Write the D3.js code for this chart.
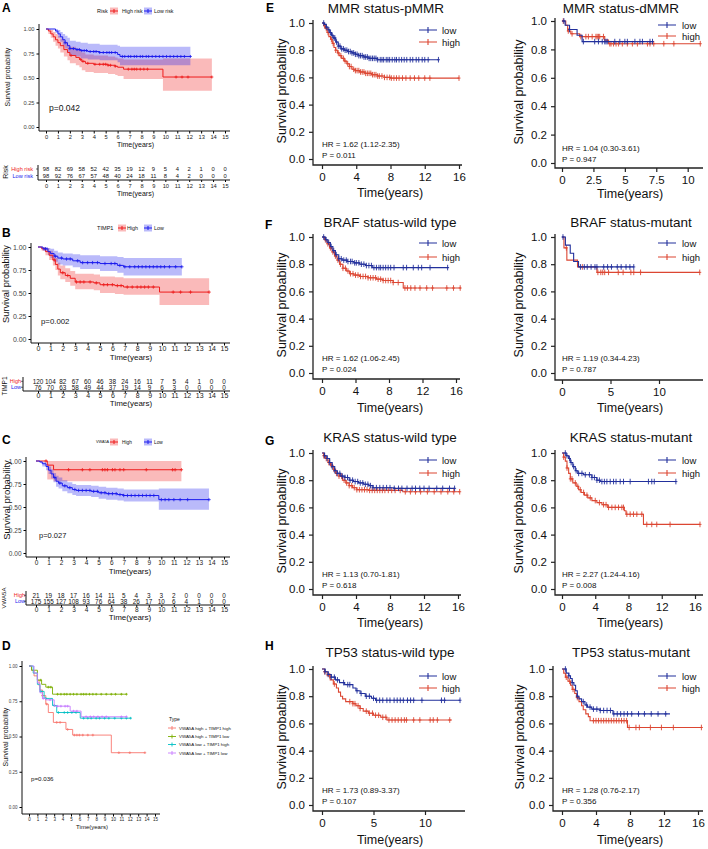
<!DOCTYPE html>
<html><head><meta charset="utf-8">
<script src="https://cdn.jsdelivr.net/npm/d3@7"></script>
<style>body{margin:0;background:#fff}svg{display:block}</style>
</head><body><script>
// ================= DATA =================
const timeTicks15 = [0,1,2,3,4,5,6,7,8,9,10,11,12,13,14,15];
const ggYTicks = [0,0.25,0.5,0.75,1];
const kmYTicks = [0,0.2,0.4,0.6,0.8,1];

// ---- Panel A (Risk) : [time, surv, lower, upper]
const A_title = "Risk";
const A_groups = ["High risk","Low risk"];
const A_high_steps = [[0,1,1,1],[0.2,0.98,0.95,1],[0.4,0.95,0.91,0.99],[0.6,0.92,0.87,0.97],[0.8,0.89,0.83,0.95],[1.0,0.86,0.80,0.93],[1.2,0.83,0.76,0.90],[1.5,0.79,0.72,0.87],[1.8,0.76,0.68,0.84],[2.0,0.73,0.65,0.82],[2.5,0.71,0.63,0.80],[2.8,0.69,0.61,0.78],[3.0,0.67,0.58,0.76],[3.3,0.65,0.56,0.74],[4.0,0.64,0.55,0.73],[5.2,0.63,0.54,0.72],[5.8,0.62,0.53,0.71],[6.0,0.61,0.52,0.70],[6.5,0.59,0.49,0.69],[9.8,0.51,0.37,0.70]];
const A_high_end = 13.9;
const A_high_cens = [2.1,2.9,3.1,3.5,4.1,4.5,4.8,5.0,5.2,5.4,5.8,6.9,7.2,7.4,7.6,7.9,8.2,8.5,10.9,11.4,11.9,13.9];
const A_low_steps = [[0,1,1,1],[0.8,0.98,0.96,1],[1.0,0.95,0.91,0.99],[1.2,0.92,0.87,0.97],[1.4,0.89,0.83,0.95],[1.6,0.86,0.80,0.93],[1.8,0.83,0.76,0.91],[2.0,0.80,0.73,0.88],[2.5,0.79,0.72,0.87],[2.9,0.78,0.70,0.86],[3.5,0.77,0.69,0.85],[4.5,0.76,0.68,0.84],[6.0,0.74,0.66,0.83],[6.2,0.72,0.63,0.82]];
const A_low_end = 12.1;
const A_low_cens = [1.6,2.0,2.3,2.6,2.8,3.0,3.2,3.4,3.7,4.0,4.2,4.5,4.8,5.1,5.3,5.5,5.8,6.4,6.6,6.9,7.1,7.4,7.6,7.9,8.1,8.4,8.6,8.9,9.2,9.5,9.8,10.1,10.4,10.7,11.0,11.3,11.6,12.1];
const A_risk_high = [98,82,69,58,52,42,35,19,12,9,5,4,2,1,0,0];
const A_risk_low  = [98,92,76,67,57,48,40,24,18,11,8,4,2,0,0,0];
const A_p = "p=0.042";

// ---- Panel B (TIMP1)
const B_title = "TIMP1";
const B_groups = ["High","Low"];
const B_high_steps = [[0,1,1,1],[0.3,0.98,0.96,1],[0.6,0.95,0.91,0.99],[0.9,0.91,0.86,0.96],[1.2,0.86,0.80,0.92],[1.4,0.81,0.75,0.88],[1.6,0.76,0.69,0.83],[1.8,0.72,0.65,0.80],[2.2,0.69,0.62,0.77],[2.6,0.66,0.58,0.74],[3.0,0.62,0.54,0.71],[4.5,0.61,0.53,0.70],[5.0,0.59,0.50,0.68],[6.2,0.58,0.49,0.67],[6.9,0.565,0.48,0.66],[9.8,0.51,0.37,0.66]];
const B_high_end = 13.8;
const B_high_cens = [1.3,2.0,2.4,3.1,3.4,3.7,4.2,4.7,5.3,5.6,6.0,6.4,6.7,7.2,7.6,8.0,8.3,8.6,8.9,9.3,10.9,11.5,12.3,13.8];
const B_low_steps = [[0,1,1,1],[0.4,0.98,0.96,1],[0.8,0.95,0.91,0.99],[1.0,0.93,0.88,0.98],[1.3,0.90,0.84,0.96],[1.6,0.88,0.81,0.94],[2.0,0.87,0.80,0.93],[2.8,0.85,0.78,0.92],[3.4,0.83,0.76,0.91],[5.0,0.82,0.74,0.90],[6.4,0.80,0.72,0.89],[6.9,0.785,0.69,0.88]];
const B_low_end = 11.6;
const B_low_cens = [0.6,1.4,1.9,2.3,2.6,3.2,3.6,4.0,4.4,4.8,5.4,5.9,6.2,6.6,7.0,7.4,7.8,8.1,8.4,8.7,9.0,9.3,9.6,9.9,10.2,10.6,11.1,11.6];
const B_risk_high = [120,104,82,67,60,46,38,24,16,11,7,5,4,1,0,0];
const B_risk_low  = [76,70,63,58,49,44,37,19,14,9,6,3,0,0,0,0];
const B_p = "p=0.002";

// ---- Panel C (VWA5A)
const C_title = "VWA5A";
const C_groups = ["High","Low"];
const C_high_steps = [[0,1,1,1],[0.9,0.955,0.80,1],[1.4,0.905,0.78,1]];
const C_high_end = 11.6;
const C_high_cens = [0.8,2.6,3.7,4.3,5.3,5.5,5.7,6.1,6.3,6.7,7.0,8.8,10.9,11.1,11.6];
const C_low_steps = [[0,1,1,1],[0.3,0.99,0.98,1],[0.5,0.97,0.94,0.99],[0.8,0.94,0.90,0.97],[1.0,0.90,0.86,0.94],[1.2,0.86,0.81,0.91],[1.4,0.82,0.77,0.87],[1.6,0.78,0.72,0.84],[1.8,0.76,0.70,0.82],[2.1,0.73,0.67,0.79],[2.5,0.71,0.65,0.77],[2.9,0.69,0.63,0.75],[3.2,0.68,0.62,0.74],[4.4,0.67,0.61,0.73],[5.0,0.655,0.59,0.72],[5.6,0.645,0.58,0.71],[6.5,0.635,0.57,0.70],[7.0,0.625,0.56,0.69],[9.8,0.58,0.47,0.70]];
const C_low_end = 13.8;
const C_low_cens = [1.5,1.9,2.3,2.7,3.1,3.4,3.7,4.0,4.3,4.6,4.9,5.2,5.5,5.8,6.1,6.4,6.7,7.0,7.3,7.6,7.9,8.2,8.5,8.8,9.1,9.4,10.0,10.3,10.6,11.0,11.5,12.1,13.8];
const C_risk_high = [21,19,18,17,16,14,11,5,4,3,3,2,0,0,0,0];
const C_risk_low  = [175,155,127,108,93,76,64,38,26,17,10,6,4,1,0,0];
const C_p = "p=0.027";

// ---- Panel D (Type)
const D_title = "Type";
const D_groups = ["VWA5A high + TIMP1 high","VWA5A high + TIMP1 low","VWA5A low + TIMP1 high","VWA5A low + TIMP1 low"];
const D_hh_steps = [[0,1],[0.3,0.97],[0.6,0.93],[1.0,0.90],[1.2,0.86],[1.3,0.83],[1.6,0.79],[2.0,0.73],[2.3,0.67],[2.9,0.60],[4.4,0.55],[5.2,0.51],[9.8,0.385]];
const D_hh_end = 13.8;
const D_hh_cens = [1.6,2.1,3.3,3.7,4.6,5.4,5.7,6.0,6.4,7.0,7.6,10.7,12.0,13.8];
const D_hl_steps = [[0,1],[0.3,0.97],[1.0,0.90],[1.5,0.87],[2.0,0.85],[2.8,0.80]];
const D_hl_end = 11.6;
const D_hl_cens = [1.4,2.3,2.6,3.4,3.8,4.2,4.5,4.9,5.3,5.7,6.2,6.5,6.8,7.2,7.6,8.0,8.6,9.2,9.8,10.3,11.0,11.6];
const D_lh_steps = [[0,1],[0.5,0.95],[1.0,0.87],[1.3,0.82],[1.8,0.77],[2.8,0.72],[3.3,0.67],[6.1,0.63]];
const D_lh_end = 12.1;
const D_lh_cens = [1.4,2.0,3.0,3.5,4.2,4.6,5.1,5.6,6.5,7.0,7.4,8.0,8.4,9.0,9.5,10.2,11.0,11.6,12.1];
const D_ll_steps = [[0,1],[0.6,0.95],[1.0,0.88],[1.3,0.81],[1.6,0.77],[2.0,0.76],[3.0,0.715],[4.9,0.68],[6.2,0.64]];
const D_ll_end = 11.6;
const D_ll_cens = [1.7,2.5,3.4,3.8,4.3,4.6,5.3,5.7,6.8,7.3,7.7,8.2,8.7,9.2,11.0,11.6];
const D_p = "p=0.036";

// ---- Panels E-H (low / high)
const kmGroups = ["low","high"];
const E1_title = "MMR  status-pMMR", E1_hr = "HR = 1.62 (1.12-2.35)", E1_p = "P = 0.011";
const E1_xticks = [0,4,8,12,16];
const E1_low_steps = [[0,1],[0.3,0.99],[0.5,0.97],[0.7,0.95],[0.9,0.93],[1.1,0.91],[1.3,0.89],[1.6,0.86],[1.9,0.83],[2.2,0.81],[2.6,0.80],[3.0,0.79],[3.5,0.78],[3.9,0.77],[4.3,0.76],[4.9,0.75],[5.5,0.74],[6.5,0.73]];
const E1_low_end = 13.6;
const E1_low_cens = [0.2,0.5,0.8,1.0,1.2,1.4,1.5,1.7,1.9,2.1,2.3,2.5,2.7,2.9,3.1,3.3,3.5,3.7,3.9,4.1,4.3,4.5,4.7,4.9,5.1,5.3,5.5,5.7,5.9,6.1,6.3,6.5,6.8,7.0,7.2,7.5,7.7,7.9,8.2,8.5,8.7,9.0,9.3,9.6,9.9,10.3,10.6,11.0,11.3,11.7,12.0,12.4,13.6];
const E1_high_steps = [[0,1],[0.2,0.98],[0.4,0.96],[0.6,0.93],[0.8,0.90],[1.0,0.88],[1.2,0.85],[1.4,0.82],[1.6,0.80],[1.8,0.78],[2.0,0.76],[2.3,0.74],[2.6,0.72],[2.9,0.70],[3.2,0.68],[3.5,0.66],[3.9,0.65],[4.4,0.64],[5.0,0.63],[5.8,0.62],[6.5,0.61],[7.3,0.60],[8.0,0.595]];
const E1_high_end = 16;
const E1_high_cens = [0.3,0.5,0.7,1.1,1.3,1.6,1.9,2.2,2.5,2.7,3.0,3.2,3.4,3.7,3.9,4.1,4.3,4.5,4.7,4.9,5.1,5.3,5.5,5.7,5.9,6.1,6.3,6.5,6.7,7.0,7.3,7.6,7.9,8.1,8.4,8.7,9.0,9.4,9.8,10.3,10.8,11.3,12.0,12.6,16.0];

const E2_title = "MMR  status-dMMR", E2_hr = "HR = 1.04 (0.30-3.61)", E2_p = "P = 0.947";
const E2_xticks = [0,2.5,5,7.5,10];
const E2_low_steps = [[0,1],[0.25,0.97],[0.6,0.94],[1.2,0.90],[1.6,0.855]];
const E2_low_end = 7.2;
const E2_low_cens = [0.15,0.6,1.7,2.6,2.9,3.2,3.4,3.5,3.6,4.2,4.6,5.0,5.2,5.8,6.2,6.4,7.0,7.2];
const E2_high_steps = [[0,1],[0.3,0.97],[0.45,0.93],[0.7,0.91],[1.4,0.89],[3.4,0.865],[3.7,0.84]];
const E2_high_end = 11.0;
const E2_high_cens = [0.1,0.5,0.8,1.5,1.9,2.1,2.4,2.7,2.8,2.9,3.0,3.3,3.8,3.9,4.1,4.3,4.5,4.8,5.2,5.6,6.0,6.8,7.0,7.3,8.1,8.9,11.0];

const F1_title = "BRAF status-wild type", F1_hr = "HR = 1.62 (1.06-2.45)", F1_p = "P = 0.024";
const F1_xticks = [0,4,8,12,16];
const F1_low_steps = [[0,1],[0.4,0.98],[0.7,0.96],[1.0,0.93],[1.3,0.90],[1.6,0.87],[2.0,0.84],[2.4,0.83],[3.0,0.82],[3.8,0.81],[4.5,0.80],[5.2,0.79],[6.0,0.775]];
const F1_low_end = 15.1;
const F1_low_cens = [0.2,0.5,0.8,1.1,1.4,1.7,2.0,2.3,2.6,2.9,3.1,3.4,3.6,3.9,4.1,4.4,4.7,5.0,5.3,5.6,5.9,6.2,6.5,6.8,7.0,7.3,7.6,7.9,8.2,8.6,9.7,10.1,10.9,11.5,11.9,12.9,15.0];
const F1_high_steps = [[0,1],[0.3,0.98],[0.6,0.95],[0.9,0.92],[1.2,0.89],[1.5,0.86],[1.8,0.83],[2.1,0.80],[2.5,0.77],[2.9,0.75],[3.3,0.73],[3.8,0.72],[4.5,0.71],[5.5,0.70],[6.5,0.69],[7.3,0.68],[8.5,0.665],[9.7,0.625]];
const F1_high_end = 16.6;
const F1_high_cens = [0.4,0.7,1.0,1.3,1.6,1.9,2.2,2.5,2.8,3.1,3.4,3.7,4.0,4.3,4.6,4.9,5.2,5.5,5.8,6.1,6.4,6.7,7.0,7.3,7.6,7.9,8.2,8.5,9.1,9.9,10.2,10.6,11.1,11.7,12.5,13.2,14.9,15.7,16.5];

const F2_title = "BRAF status-mutant", F2_hr = "HR = 1.19 (0.34-4.23)", F2_p = "P = 0.787";
const F2_xticks = [0,5,10];
const F2_low_steps = [[0,1],[0.35,0.94],[0.85,0.88],[1.2,0.82],[1.7,0.78]];
const F2_low_end = 7.4;
const F2_low_cens = [0.1,1.9,2.3,2.6,3.0,3.4,3.6,4.3,4.7,5.1,5.7,6.1,6.6,7.0,7.4];
const F2_high_steps = [[0,1],[0.2,0.92],[0.5,0.83],[1.6,0.78],[3.6,0.74]];
const F2_high_end = 14.2;
const F2_high_cens = [0.45,2.1,3.7,4.0,4.2,4.4,4.8,5.8,6.3,7.1,7.4,8.1,14.2];

const G1_title = "KRAS status-wild type", G1_hr = "HR = 1.13 (0.70-1.81)", G1_p = "P = 0.618";
const G1_xticks = [0,4,8,12,16];
const G1_low_steps = [[0,1],[0.3,0.98],[0.6,0.96],[0.9,0.93],[1.2,0.90],[1.5,0.87],[1.8,0.85],[2.2,0.83],[2.7,0.82],[3.2,0.80],[3.7,0.79],[4.3,0.78],[4.9,0.77],[5.5,0.76],[6.0,0.745],[8.5,0.74]];
const G1_low_end = 15.6;
const G1_low_cens = [0.3,0.6,0.9,1.2,1.5,1.8,2.1,2.4,2.7,3.0,3.3,3.6,3.9,4.2,4.5,4.8,5.1,5.4,5.7,6.0,6.4,6.8,7.2,7.6,8.0,8.5,9.0,9.4,10.0,10.6,11.0,11.5,12.0,12.6,13.5,14.2,15.0,15.6];
const G1_high_steps = [[0,1],[0.2,0.98],[0.4,0.96],[0.7,0.93],[1.0,0.91],[1.3,0.88],[1.6,0.85],[2.0,0.83],[2.4,0.80],[2.8,0.78],[3.2,0.76],[3.6,0.745],[4.1,0.73],[5.5,0.725],[9.5,0.715]];
const G1_high_end = 16.2;
const G1_high_cens = [0.2,0.5,0.8,1.1,1.4,1.7,2.0,2.3,2.6,2.9,3.2,3.5,3.8,4.1,4.4,4.7,5.0,5.3,5.6,5.9,6.2,6.5,6.8,7.1,7.4,7.8,8.2,8.6,9.2,9.8,10.4,11.0,11.6,12.4,13.2,14.0,14.8,15.5,16.2];

const G2_title = "KRAS status-mutant", G2_hr = "HR = 2.27 (1.24-4.16)", G2_p = "P = 0.008";
const G2_xticks = [0,4,8,12,16];
const G2_low_steps = [[0,1],[0.5,0.98],[0.8,0.96],[1.0,0.93],[1.3,0.90],[1.6,0.87],[1.9,0.85],[2.6,0.84],[3.6,0.82],[4.2,0.80],[4.6,0.79]];
const G2_low_end = 13.7;
const G2_low_cens = [0.4,0.6,0.9,1.1,1.4,1.7,2.0,2.4,2.8,3.3,3.6,3.9,4.2,4.5,4.8,5.1,5.4,5.8,6.2,6.5,7.0,7.4,8.2,10.4,10.8,11.1,13.7];
const G2_high_steps = [[0,1],[0.2,0.97],[0.4,0.94],[0.6,0.89],[0.8,0.85],[1.0,0.81],[1.3,0.78],[1.7,0.755],[2.0,0.73],[2.3,0.71],[2.7,0.69],[3.1,0.67],[3.6,0.65],[4.2,0.635],[4.8,0.62],[5.5,0.60],[7.5,0.575],[7.7,0.55],[9.8,0.475]];
const G2_high_end = 16.6;
const G2_high_cens = [0.2,0.6,1.0,1.2,1.6,1.9,2.2,2.6,3.0,3.4,4.0,4.5,5.0,5.3,5.6,6.0,6.4,6.8,7.2,7.4,7.8,8.2,8.6,9.0,9.6,10.2,10.8,11.4,13.0,16.6];

const H1_title = "TP53 status-wild type", H1_hr = "HR = 1.73 (0.89-3.37)", H1_p = "P = 0.107";
const H1_xticks = [0,5,10];
const H1_low_steps = [[0,1],[0.3,0.98],[0.6,0.96],[0.9,0.94],[1.3,0.92],[1.7,0.90],[2.2,0.885],[3.0,0.86],[3.3,0.84],[3.7,0.82],[4.2,0.80],[4.8,0.785],[5.2,0.77]];
const H1_low_end = 13.4;
const H1_low_cens = [0.3,0.6,0.9,1.2,1.5,2.1,2.5,2.7,3.4,3.8,4.3,4.6,5.0,5.3,5.6,5.9,6.3,6.6,7.0,7.3,7.6,7.9,8.3,8.6,8.9,9.7,11.6,11.9,13.4];
const H1_high_steps = [[0,1],[0.25,0.98],[0.5,0.95],[0.8,0.92],[1.1,0.89],[1.4,0.86],[1.6,0.83],[1.8,0.80],[2.0,0.78],[2.3,0.76],[3.0,0.745],[3.3,0.73],[3.7,0.71],[4.0,0.69],[4.5,0.675],[5.0,0.66],[5.7,0.645],[6.3,0.625]];
const H1_high_end = 12.6;
const H1_high_cens = [0.25,0.75,1.2,2.7,3.0,3.2,3.5,3.7,4.3,4.6,4.9,5.2,5.5,5.9,6.2,6.5,6.8,7.1,7.4,7.7,8.0,8.2,8.9,9.5,10.5,10.8,11.2,12.4];

const H2_title = "TP53 status-mutant", H2_hr = "HR = 1.28 (0.76-2.17)", H2_p = "P = 0.356";
const H2_xticks = [0,4,8,12,16];
const H2_low_steps = [[0,1],[0.5,0.97],[0.8,0.95],[1.0,0.93],[1.2,0.90],[1.4,0.88],[1.6,0.84],[1.8,0.80],[2.0,0.78],[2.3,0.76],[2.7,0.735],[3.0,0.72],[3.5,0.705],[4.5,0.695],[6.0,0.67]];
const H2_low_end = 12.7;
const H2_low_cens = [0.4,0.8,1.2,1.8,2.5,2.9,3.3,3.7,4.1,4.5,4.9,5.3,5.7,6.1,6.5,6.9,7.3,7.7,8.2,9.0,9.7,10.5,11.3,12.2];
const H2_high_steps = [[0,1],[0.2,0.97],[0.4,0.94],[0.7,0.91],[1.0,0.88],[1.2,0.85],[1.5,0.82],[1.7,0.79],[2.0,0.76],[2.3,0.73],[2.5,0.70],[2.8,0.67],[3.1,0.65],[3.3,0.62],[7.7,0.57]];
const H2_high_end = 16.4;
const H2_high_cens = [0.5,0.9,1.3,1.8,3.7,4.0,4.3,4.6,4.9,5.2,5.5,5.8,6.1,6.4,6.7,7.0,7.3,7.6,7.9,8.7,9.1,10.4,11.7,13.1,16.4];

// ================= STYLE / LAYOUT =================
const FONT = "'Liberation Sans', Arial, sans-serif";
const ggRed = "#ee1c1c", ggBlue = "#1c1cee";
const dCols = ["#F8766D","#7CAE00","#00BFC4","#C77CFF"];
const kmBlue = "#22309c", kmRed = "#dc4632";

const svg = d3.select("body").append("svg").attr("width",708).attr("height",849)
  .attr("font-family",FONT);

function survAt(steps,t){let s=1;for(const d of steps){if(d[0]<=t)s=d[1];else break;}return s;}
function extendSteps(steps,end){const l=steps[steps.length-1];return steps.concat([[end].concat(l.slice(1))]);}
function txt(g,x,y,s,o){const t=g.append("text").attr("x",x).attr("y",y).text(s);
  for(const k in o)t.attr(k,o[k]);return t;}
const plainFmt = d => String(d);

// -------- ggplot-style panel --------
function ggPanel(L, curves, pText){
  const g = svg.append("g");
  const x = d3.scaleLinear().domain([0,15]).range([L.x0,L.x15]);
  const y = d3.scaleLinear().domain([0,1]).range([L.yb,L.yt]);
  curves.forEach(c=>{ if(c.band){
    g.append("path").datum(extendSteps(c.steps,c.end))
     .attr("d",d3.area().curve(d3.curveStepAfter).x(d=>x(d[0])).y0(d=>y(d[2])).y1(d=>y(d[3])))
     .attr("fill",c.color).attr("fill-opacity",0.3);
  }});
  curves.forEach(c=>{
    g.append("path").datum(extendSteps(c.steps,c.end))
     .attr("d",d3.line().curve(d3.curveStepAfter).x(d=>x(d[0])).y(d=>y(d[1])))
     .attr("fill","none").attr("stroke",c.color).attr("stroke-width",L.lw);
    c.censors.forEach(t=>{const cx=x(t), cy=y(survAt(c.steps,t));
      g.append("path").attr("d",`M${cx-L.cs},${cy}H${cx+L.cs}M${cx},${cy-L.cs}V${cy+L.cs}`)
       .attr("stroke",c.color).attr("stroke-width",0.8);});
  });
  const ya = g.append("g").attr("transform",`translate(${L.ax},0)`)
    .call(d3.axisLeft(y).tickValues(ggYTicks).tickFormat(d3.format(".2f")).tickSize(2.5).tickPadding(2));
  ya.attr("font-family",FONT).attr("font-size",L.fTick);
  ya.select(".domain").remove(); ya.selectAll("text").attr("fill","#444");
  const xa = g.append("g").attr("transform",`translate(0,${L.ay})`)
    .call(d3.axisBottom(x).tickValues(timeTicks15).tickFormat(plainFmt).tickSize(2.5).tickPadding(L.xpad));
  xa.attr("font-family",FONT).attr("font-size",L.fTick);
  xa.select(".domain").remove(); xa.selectAll("text").attr("fill","#222");
  g.append("path").attr("d",`M${L.ax},${L.ytop}V${L.ay}H${L.xEnd}`).attr("fill","none").attr("stroke","#111").attr("stroke-width",1);
  txt(g,(L.x0+L.x15)/2,L.timeY,"Time(years)",{"text-anchor":"middle","font-size":L.fAxis,fill:"#111"});
  txt(g,0,0,"Survival probability",{"text-anchor":"middle","font-size":L.fYlab,fill:"#111",
     transform:`translate(${L.ylabX},${L.ylabY}) rotate(-90)`,"dominant-baseline":"central"});
  txt(g,L.pX,L.pY,pText,{"font-size":L.fP,fill:"#111"});
  return x;
}

function riskTable(T, x, title, labels, rows, colors){
  const g = svg.append("g");
  rows.forEach((r,i)=>{
    txt(g,T.labX,T.rowY[i],labels[i],{"text-anchor":"end","font-size":T.fLab,fill:colors[i],"dominant-baseline":"central"});
    g.append("line").attr("x1",T.tax-2).attr("x2",T.tax).attr("y1",T.rowY[i]).attr("y2",T.rowY[i]).attr("stroke","#111").attr("stroke-width",0.6);
    r.forEach((n,j)=>txt(g,x(timeTicks15[j]),T.rowY[i],n,{"text-anchor":"middle","font-size":T.fNum,fill:"#111","dominant-baseline":"central"}));
  });
  const xa = g.append("g").attr("transform",`translate(0,${T.tline})`)
    .call(d3.axisBottom(x).tickValues(timeTicks15).tickFormat(plainFmt).tickSize(2).tickPadding(T.xpad));
  xa.attr("font-family",FONT).attr("font-size",T.fTick);
  xa.select(".domain").remove(); xa.selectAll("text").attr("fill","#222");
  g.append("path").attr("d",`M${T.tax},${T.ttop}V${T.tline}H${T.xEnd}`).attr("fill","none").attr("stroke","#111").attr("stroke-width",1);
  txt(g,(x(0)+x(15))/2,T.timeY,"Time(years)",{"text-anchor":"middle","font-size":T.fTime,fill:"#111"});
  txt(g,0,0,title,{"text-anchor":"middle","font-size":T.fTitle,fill:"#111",
     transform:`translate(${T.titleX},${T.titleY}) rotate(-90)`,"dominant-baseline":"central"});
}

function ggLegend(Lg, title, labels, colors){
  const g = svg.append("g");
  txt(g,Lg.x,Lg.y,title,{"font-size":Lg.ft,fill:"#111","dominant-baseline":"central"});
  labels.forEach((lab,i)=>{
    const kx=Lg.keys[i];
    g.append("rect").attr("x",kx).attr("y",Lg.y-3.5).attr("width",8).attr("height",7).attr("fill",colors[i]).attr("fill-opacity",0.3);
    g.append("path").attr("d",`M${kx},${Lg.y}H${kx+8}M${kx+4},${Lg.y-2}V${Lg.y+2}`).attr("stroke",colors[i]).attr("stroke-width",1);
    txt(g,Lg.texts[i],Lg.y,lab,{"font-size":Lg.f,fill:"#111","dominant-baseline":"central"});
  });
}

function panelLetter(x,y,s){txt(svg,x,y,s,{"font-size":12,"font-weight":"bold",fill:"#000"});}

// -------- KM-plotter style panel --------
function kmPanel(P, title, hr, pv, xticks, low, high){
  const g = svg.append("g");
  const x = d3.scaleLinear().domain([0,10]).range([P.x0,P.x0+10*P.unit]);
  const y = d3.scaleLinear().domain([0,1]).range([P.y0,P.y1]);
  [high,low].forEach(c=>{
    g.append("path").datum(extendSteps(c.steps,c.end))
     .attr("d",d3.line().curve(d3.curveStepAfter).x(d=>x(d[0])).y(d=>y(d[1])))
     .attr("fill","none").attr("stroke",c.color).attr("stroke-width",1.1);
    c.censors.forEach(t=>{const cx=x(t), cy=y(survAt(c.steps,t));
      g.append("path").attr("d",`M${cx-1.5},${cy}H${cx+1.5}M${cx},${cy-2.8}V${cy+2.8}`)
       .attr("stroke",c.color).attr("stroke-width",0.9);});
  });
  const ya = g.append("g").attr("transform",`translate(${P.ax},0)`)
    .call(d3.axisLeft(y).tickValues(kmYTicks).tickFormat(d3.format(".1f")).tickSize(4).tickPadding(4));
  ya.attr("font-family",FONT).attr("font-size",11.5);
  ya.select(".domain").remove(); ya.selectAll("text").attr("fill","#111"); ya.selectAll("line").attr("stroke","#222").attr("stroke-width",1.2);
  const xa = g.append("g").attr("transform",`translate(0,${P.ay})`)
    .call(d3.axisBottom(x).tickValues(xticks).tickFormat(plainFmt).tickSize(4).tickPadding(4));
  xa.attr("font-family",FONT).attr("font-size",11.5);
  xa.select(".domain").remove(); xa.selectAll("text").attr("fill","#111"); xa.selectAll("line").attr("stroke","#222").attr("stroke-width",1.2);
  g.append("path").attr("d",`M${P.ax},${P.y1-3}V${P.ay}H${P.xEnd}`).attr("fill","none").attr("stroke","#222").attr("stroke-width",1.3);
  txt(g,P.titleX,P.titleY,title,{"text-anchor":"middle","font-size":13.5,fill:"#111"});
  txt(g,P.timeX,P.timeY,"Time(years)",{"text-anchor":"middle","font-size":12.5,fill:"#111"});
  txt(g,0,0,"Survival probability",{"text-anchor":"middle","font-size":12.5,fill:"#111",
     transform:`translate(${P.ylabX},${(P.y0+P.y1)/2}) rotate(-90)`,"dominant-baseline":"central"});
  txt(g,P.x0,P.y0-12,hr,{"font-size":8,fill:"#111"});
  txt(g,P.x0,P.y0-1,pv,{"font-size":8,fill:"#111"});
  [low,high].forEach((c,i)=>{
    const ly=P.y1+P.leg[i];
    g.append("path").attr("d",`M${P.legX[0]},${ly}H${P.legX[1]}M${(P.legX[0]+P.legX[1])/2},${ly-3}V${ly+3}`)
      .attr("stroke",c.color).attr("stroke-width",1.1);
    txt(g,P.legX[2],ly,kmGroups[i],{"font-size":9.5,fill:"#111","dominant-baseline":"central"});
  });
}

// ================= DRAW =================
// Panel A
panelLetter(2,12,"A");
ggLegend({x:97,y:11,ft:5.5,f:5.3,keys:[110,144],texts:[122,154]},A_title,A_groups,[ggRed,ggBlue]);
const xA = ggPanel({ax:39,x0:46,x15:225,yt:29,yb:127,ytop:24,ay:131,xEnd:230,fTick:5.7,xpad:1.5,fAxis:7,fYlab:7,
  timeY:147,ylabX:7,ylabY:77,pX:49,pY:111,fP:8.5,lw:1,cs:1.5},
  [{steps:A_high_steps,end:A_high_end,censors:A_high_cens,color:ggRed,band:true},
   {steps:A_low_steps,end:A_low_end,censors:A_low_cens,color:ggBlue,band:true}], A_p);
riskTable({labX:33,rowY:[169,175.5],tax:38,ttop:165,tline:180,xEnd:230,fLab:5.6,fNum:5.8,fTick:5.7,xpad:1.5,fTime:7,timeY:196,titleX:5,titleY:172,fTitle:7},
  xA, A_title, A_groups, [A_risk_high,A_risk_low],[ggRed,ggBlue]);

// Panel B
panelLetter(2,237,"B");
ggLegend({x:97,y:228,ft:5.6,f:5.3,keys:[118,144],texts:[127,154]},B_title,B_groups,[ggRed,ggBlue]);
const xB = ggPanel({ax:31,x0:38,x15:224,yt:247,yb:339,ytop:243,ay:343,xEnd:230,fTick:7,xpad:0.5,fAxis:8,fYlab:9.3,
  timeY:360,ylabX:6,ylabY:284,pX:41,pY:324,fP:7.8,lw:1,cs:1.7},
  [{steps:B_high_steps,end:B_high_end,censors:B_high_cens,color:ggRed,band:true},
   {steps:B_low_steps,end:B_low_end,censors:B_low_cens,color:ggBlue,band:true}], B_p);
riskTable({labX:21,rowY:[381.3,387.3],tax:23,ttop:377,tline:391,xEnd:230,fLab:5.5,fNum:6.4,fTick:7,xpad:0.5,fTime:8,timeY:406,titleX:4,titleY:386,fTitle:6.5},
  xB, B_title, B_groups, [B_risk_high,B_risk_low],[ggRed,ggBlue]);

// Panel C
panelLetter(2,444,"C");
ggLegend({x:96,y:442,ft:3.8,f:4.8,keys:[110,144],texts:[122,154]},C_title,C_groups,[ggRed,ggBlue]);
const xC = ggPanel({ax:26,x0:36,x15:224,yt:461,yb:553,ytop:457,ay:557,xEnd:230,fTick:6.5,xpad:1,fAxis:8,fYlab:9.5,
  timeY:574,ylabX:6,ylabY:500,pX:39,pY:538,fP:7.5,lw:1,cs:1.7},
  [{steps:C_high_steps,end:C_high_end,censors:C_high_cens,color:ggRed,band:true},
   {steps:C_low_steps,end:C_low_end,censors:C_low_cens,color:ggBlue,band:true}], C_p);
riskTable({labX:25,rowY:[595.3,601.3],tax:26,ttop:591,tline:605,xEnd:230,fLab:5.5,fNum:6.4,fTick:6.5,xpad:0.5,fTime:8,timeY:620,titleX:3.5,titleY:598,fTitle:6},
  xC, C_title, C_groups, [C_risk_high,C_risk_low],[ggRed,ggBlue]);

// Panel D
panelLetter(2,650,"D");
ggPanel({ax:22,x0:29,x15:155,yt:666,yb:807,ytop:661,ay:814,xEnd:160,fTick:4.5,xpad:1,fAxis:6,fYlab:7,
  timeY:829,ylabX:5,ylabY:737,pX:31,pY:781,fP:6.2,lw:0.9,cs:1.3},
  [{steps:D_hh_steps,end:D_hh_end,censors:D_hh_cens,color:dCols[0]},
   {steps:D_hl_steps,end:D_hl_end,censors:D_hl_cens,color:dCols[1]},
   {steps:D_lh_steps,end:D_lh_end,censors:D_lh_cens,color:dCols[2]},
   {steps:D_ll_steps,end:D_ll_end,censors:D_ll_cens,color:dCols[3]}], D_p);
(function(){
  const g=svg.append("g");
  txt(g,169,719,D_title,{"font-size":5,fill:"#111","dominant-baseline":"central"});
  const ys=[728,736.5,744.5,753];
  D_groups.forEach((lab,i)=>{
    g.append("path").attr("d",`M168,${ys[i]}H176M172,${ys[i]-2}V${ys[i]+2}`).attr("stroke",dCols[i]).attr("stroke-width",0.9);
    txt(g,179,ys[i],lab,{"font-size":4.4,fill:"#111","dominant-baseline":"central"});
  });
})();

// Panels E-H
const leftCol = {ax:313,x0:322,legX:[419,437,442],ylabX:282,titleX:390,timeX:390};
const rightCol = {ax:555,x0:562,legX:[658,676,682],ylabX:519,titleX:631,timeX:630};
function lowHigh(ls,le,lc,hs,he,hc){return [{steps:ls,end:le,censors:lc,color:kmBlue},{steps:hs,end:he,censors:hc,color:kmRed}];}

panelLetter(266,12,"E");
kmPanel(Object.assign({},leftCol,{unit:137/16,y1:23,y0:159,ay:165,xEnd:462,titleX:386,titleY:13,timeY:197,leg:[7,19]}),
  E1_title,E1_hr,E1_p,E1_xticks,...lowHigh(E1_low_steps,E1_low_end,E1_low_cens,E1_high_steps,E1_high_end,E1_high_cens));
kmPanel(Object.assign({},rightCol,{unit:12.57,y1:21,y0:163,ay:168,xEnd:703,titleX:621,titleY:13,timeY:198,leg:[4,15]}),
  E2_title,E2_hr,E2_p,E2_xticks,...lowHigh(E2_low_steps,E2_low_end,E2_low_cens,E2_high_steps,E2_high_end,E2_high_cens));

panelLetter(265,229,"F");
kmPanel(Object.assign({},leftCol,{unit:134/16,y1:237,y0:373,ay:379,xEnd:460,titleY:227,timeY:412,leg:[6,20]}),
  F1_title,F1_hr,F1_p,F1_xticks,...lowHigh(F1_low_steps,F1_low_end,F1_low_cens,F1_high_steps,F1_high_end,F1_high_cens));
kmPanel(Object.assign({},rightCol,{unit:9.7,y1:237,y0:373,ay:380,xEnd:703,titleY:227,timeY:412,leg:[6,20]}),
  F2_title,F2_hr,F2_p,F2_xticks,...lowHigh(F2_low_steps,F2_low_end,F2_low_cens,F2_high_steps,F2_high_end,F2_high_cens));

panelLetter(265,445,"G");
kmPanel(Object.assign({},leftCol,{unit:136/16,y1:453,y0:589,ay:595,xEnd:461,titleY:442,timeY:627,leg:[7,20]}),
  G1_title,G1_hr,G1_p,G1_xticks,...lowHigh(G1_low_steps,G1_low_end,G1_low_cens,G1_high_steps,G1_high_end,G1_high_cens));
kmPanel(Object.assign({},rightCol,{unit:133/16,y1:453,y0:589,ay:595,xEnd:703,titleY:442,timeY:627,leg:[7,20]}),
  G2_title,G2_hr,G2_p,G2_xticks,...lowHigh(G2_low_steps,G2_low_end,G2_low_cens,G2_high_steps,G2_high_end,G2_high_cens));

panelLetter(265,650,"H");
kmPanel(Object.assign({},leftCol,{unit:10.3,y1:669,y0:805,ay:811,xEnd:465,titleY:657,timeY:844,leg:[7,19]}),
  H1_title,H1_hr,H1_p,H1_xticks,...lowHigh(H1_low_steps,H1_low_end,H1_low_cens,H1_high_steps,H1_high_end,H1_high_cens));
kmPanel(Object.assign({},rightCol,{ax:553,unit:136/16,y1:669,y0:805,ay:811,xEnd:703,titleY:657,timeY:844,ylabX:520,leg:[7,19]}),
  H2_title,H2_hr,H2_p,H2_xticks,...lowHigh(H2_low_steps,H2_low_end,H2_low_cens,H2_high_steps,H2_high_end,H2_high_cens));
</script></body></html>
